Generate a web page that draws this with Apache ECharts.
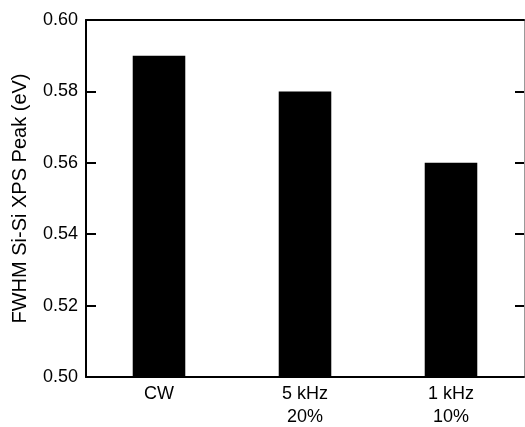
<!DOCTYPE html>
<html>
<head>
<meta charset="utf-8">
<script src="https://cdn.jsdelivr.net/npm/echarts@6/dist/echarts.min.js"></script>
<style>html,body{margin:0;padding:0;background:#fff}#c{width:525px;height:427px}</style>
</head>
<body>
<div id="c"></div>
<script>
const categories = ['CW', '5 kHz\n20%', '1 kHz\n10%'];
const fwhmValues = [0.59, 0.58, 0.56];
const yMin = 0.50, yMax = 0.60, yStep = 0.02;
const yTitle = 'FWHM Si-Si XPS Peak (eV)';

const chart = echarts.init(document.getElementById('c'), null, {renderer: 'canvas'});
const font = 'Liberation Sans, Arial, sans-serif';
chart.setOption({
  animation: false,
  backgroundColor: '#fff',
  grid: {left: 86, right: 1, top: 20, bottom: 50, containLabel: false, outerBoundsMode: 'none'},
  xAxis: [{
    type: 'category', data: categories, position: 'bottom',
    axisLine: {show: true, lineStyle: {color: '#000', width: 2}},
    axisTick: {show: false},
    axisLabel: {color: '#000', fontFamily: font, fontSize: 18, lineHeight: 23, margin: 6}
  }, {
    type: 'value', position: 'top', min: 0, max: 1,
    axisLine: {show: true, onZero: false, lineStyle: {color: '#000', width: 2}},
    axisTick: {show: false}, axisLabel: {show: false}, splitLine: {show: false}
  }],
  yAxis: [{
    type: 'value', min: yMin, max: yMax, interval: yStep, position: 'left',
    name: yTitle, nameLocation: 'middle', nameGap: 56,
    nameTextStyle: {color: '#000', fontFamily: font, fontSize: 20},
    axisLine: {show: true, lineStyle: {color: '#000', width: 2}},
    axisTick: {show: true, inside: true, length: 10, lineStyle: {color: '#000', width: 2}},
    axisLabel: {color: '#000', fontFamily: font, fontSize: 18, margin: 8, formatter: v => v.toFixed(2)},
    splitLine: {show: false}
  }, {
    type: 'value', min: yMin, max: yMax, interval: yStep, position: 'right',
    axisLine: {show: true, lineStyle: {color: '#999', width: 1}},
    axisTick: {show: true, inside: true, length: 9, lineStyle: {color: '#000', width: 2}},
    axisLabel: {show: false}, splitLine: {show: false}
  }],
  series: [{
    type: 'bar', data: fwhmValues, xAxisIndex: 0, yAxisIndex: 0,
    barWidth: '36%',
    itemStyle: {color: '#000'}
  }]
});
</script>
</body>
</html>
